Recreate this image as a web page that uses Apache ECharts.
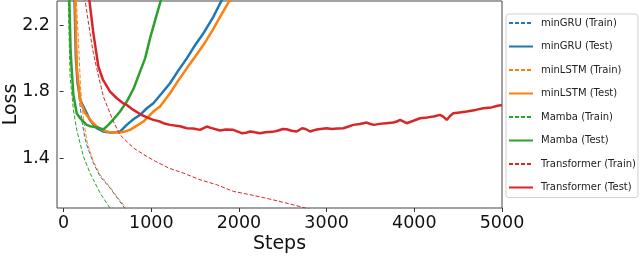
<!DOCTYPE html>
<html>
<head>
<meta charset="utf-8">
<script src="https://cdn.jsdelivr.net/npm/echarts@6/dist/echarts.min.js"></script>
<style>
html,body{margin:0;padding:0;background:#fff;}
#c{width:640px;height:280px;}
</style>
</head>
<body>
<div id="c"></div>
<script>
const xTicks = [0, 1000, 2000, 3000, 4000, 5000];
const yTicks = [1.4, 1.8, 2.2];

const seriesNames = ["minGRU (Train)", "minGRU (Test)", "minLSTM (Train)", "minLSTM (Test)",
  "Mamba (Train)", "Mamba (Test)", "Transformer (Train)", "Transformer (Test)"];

const minGRUTrainSteps = [0, 90, 130, 150, 169, 207, 240, 264, 340, 416, 530, 620, 690, 730];
const minGRUTrainLoss  = [4.4, 2.9, 2.3, 2.05, 1.80, 1.63, 1.53, 1.48, 1.37, 1.29, 1.22, 1.155, 1.105, 1.08];

const minGRUTestSteps = [0, 100, 125, 140, 160, 190, 245, 300, 378, 454, 530, 600, 644, 720, 800, 872, 950, 1024, 1120, 1214, 1300, 1405, 1500, 1594, 1708, 1804, 1900];
const minGRUTestLoss  = [4.5, 3.0, 2.35, 2.0, 1.85, 1.75, 1.69, 1.63, 1.58, 1.56, 1.554, 1.556, 1.56, 1.60, 1.635, 1.66, 1.70, 1.73, 1.79, 1.85, 1.92, 2.00, 2.08, 2.15, 2.25, 2.35, 2.44];

const minLSTMTrainSteps = [0, 100, 140, 170, 196, 226, 245, 270, 340, 416, 530, 620, 701, 740];
const minLSTMTrainLoss  = [4.5, 2.9, 2.4, 2.1, 1.80, 1.64, 1.57, 1.49, 1.38, 1.30, 1.225, 1.16, 1.108, 1.08];

const minLSTMTestSteps = [0, 110, 131, 150, 188, 245, 321, 380, 454, 530, 644, 700, 758, 850, 910, 1024, 1100, 1214, 1300, 1405, 1500, 1594, 1700, 1785, 1899, 2000];
const minLSTMTestLoss  = [4.5, 3.0, 2.35, 1.95, 1.75, 1.67, 1.62, 1.59, 1.566, 1.555, 1.554, 1.56, 1.57, 1.60, 1.62, 1.68, 1.71, 1.79, 1.86, 1.94, 2.01, 2.08, 2.17, 2.25, 2.353, 2.45];

const mambaTrainSteps = [0, 40, 60, 74, 112, 150, 188, 226, 302, 340, 416, 530, 560];
const mambaTrainLoss  = [4.0, 2.8, 2.2, 1.89, 1.69, 1.57, 1.49, 1.41, 1.31, 1.27, 1.19, 1.098, 1.08];

const mambaTestSteps = [0, 50, 66, 80, 93, 112, 150, 188, 264, 302, 380, 454, 510, 564, 644, 721, 800, 872, 930, 986, 1050, 1110, 1200];
const mambaTestLoss  = [4.5, 3.0, 2.35, 2.05, 1.93, 1.78, 1.67, 1.64, 1.60, 1.592, 1.585, 1.572, 1.60, 1.63, 1.68, 1.74, 1.82, 1.92, 2.0, 2.12, 2.24, 2.35, 2.5];

const transformerTrainSteps = [0, 150, 245, 302, 340, 378, 454, 568, 644, 721, 800, 949, 1050, 1200, 1366, 1556, 1747, 1936, 2127, 2317, 2500, 2650, 2773, 2850];
const transformerTrainLoss  = [5.0, 3.0, 2.35, 2.15, 2.03, 1.94, 1.77, 1.62, 1.54, 1.50, 1.46, 1.41, 1.38, 1.34, 1.31, 1.27, 1.24, 1.20, 1.18, 1.158, 1.135, 1.115, 1.098, 1.085];

const transformerTestSteps = [0, 250, 294, 340, 397, 450, 530, 607, 680, 721, 796, 872, 949, 1024, 1100, 1138, 1214, 1328, 1405, 1480, 1556, 1633, 1680, 1785, 1850, 1935, 2032, 2080, 2127, 2180, 2240, 2300, 2380, 2440, 2500, 2545, 2600, 2659, 2720, 2760, 2811, 2870, 2930, 3001, 3060, 3120, 3190, 3250, 3305, 3380, 3457, 3500, 3540, 3600, 3680, 3761, 3800, 3837, 3913, 3990, 4065, 4150, 4220, 4293, 4330, 4370, 4410, 4445, 4520, 4597, 4700, 4787, 4880, 4950, 5000];
const transformerTestLoss  = [5.0, 2.8, 2.35, 2.15, 1.95, 1.87, 1.80, 1.76, 1.73, 1.72, 1.69, 1.665, 1.645, 1.63, 1.62, 1.61, 1.60, 1.592, 1.58, 1.578, 1.57, 1.59, 1.582, 1.566, 1.572, 1.57, 1.55, 1.553, 1.56, 1.555, 1.55, 1.556, 1.558, 1.565, 1.575, 1.574, 1.565, 1.56, 1.58, 1.575, 1.56, 1.57, 1.575, 1.58, 1.575, 1.578, 1.58, 1.59, 1.60, 1.605, 1.614, 1.605, 1.60, 1.606, 1.61, 1.614, 1.62, 1.63, 1.61, 1.625, 1.64, 1.645, 1.65, 1.66, 1.65, 1.63, 1.655, 1.67, 1.675, 1.68, 1.69, 1.70, 1.705, 1.715, 1.72];

const colors = ["#1f77b4", "#1f77b4", "#ff7f0e", "#ff7f0e", "#2ca02c", "#2ca02c", "#d62728", "#d62728"];
const dashed = [true, false, true, false, true, false, true, false];
const stepsList = [minGRUTrainSteps, minGRUTestSteps, minLSTMTrainSteps, minLSTMTestSteps, mambaTrainSteps, mambaTestSteps, transformerTrainSteps, transformerTestSteps];
const lossList = [minGRUTrainLoss, minGRUTestLoss, minLSTMTrainLoss, minLSTMTestLoss, mambaTrainLoss, mambaTestLoss, transformerTrainLoss, transformerTestLoss];

const FONT = "DejaVu Sans";
const chart = echarts.init(document.getElementById('c'), null, {renderer: 'canvas'});

const series = seriesNames.map((name, i) => ({
  name: name,
  type: 'line',
  data: stepsList[i].map((s, k) => [s, lossList[i][k]]),
  showSymbol: false,
  symbol: 'none',
  clip: true,
  z: 2 + i,
  lineStyle: {
    color: colors[i],
    width: dashed[i] ? 1 : 2.5,
    type: dashed[i] ? [4, 2] : 'solid'
  },
  itemStyle: {color: colors[i]},
  emphasis: {disabled: true}
}));

chart.setOption({
  animation: false,
  backgroundColor: '#fff',
  grid: {
    left: 57, right: 138, top: 1, bottom: 72,
    show: true, borderColor: '#444', borderWidth: 1,
    containLabel: false, outerBoundsMode: 'none'
  },
  xAxis: {
    type: 'value', min: -75, max: 5000,
    splitLine: {show: false},
    axisLine: {show: false},
    axisTick: {show: true, inside: false, length: 4, customValues: xTicks, lineStyle: {color: '#333', width: 1}},
    axisLabel: {customValues: xTicks, fontFamily: FONT, fontSize: 17.5, color: '#111', margin: 6,
      formatter: v => String(Math.round(v))},
    name: 'Steps', nameLocation: 'middle', nameGap: 27, nameMoveOverlap: false,
    nameTextStyle: {fontFamily: FONT, fontSize: 19, color: '#111', verticalAlign: 'top'}
  },
  yAxis: {
    type: 'value', min: 1.1, max: 2.345,
    splitLine: {show: false},
    axisLine: {show: false},
    axisTick: {show: true, inside: false, length: 4, customValues: yTicks, lineStyle: {color: '#333', width: 1}},
    axisLabel: {customValues: yTicks, fontFamily: FONT, fontSize: 17.5, color: '#111', margin: 7,
      formatter: v => v.toFixed(1)},
    name: 'Loss', nameLocation: 'middle', nameGap: 36, nameRotate: 90, nameMoveOverlap: false,
    nameTextStyle: {fontFamily: FONT, fontSize: 19, color: '#111'}
  },
  legend: {
    show: true, orient: 'vertical', left: 506, top: 14,
    padding: [4, 2, 5, 2],
    itemWidth: 24, itemHeight: 10, itemGap: 13.5,
    itemStyle: {opacity: 0},
    backgroundColor: '#fff', borderColor: '#d0d0d0', borderWidth: 1, borderRadius: 3,
    textStyle: {fontFamily: FONT, fontSize: 10, color: '#222', padding: [0, 0, 0, 3]},
    selectedMode: false,
    data: seriesNames
  },
  series: series
});
</script>
</body>
</html>
